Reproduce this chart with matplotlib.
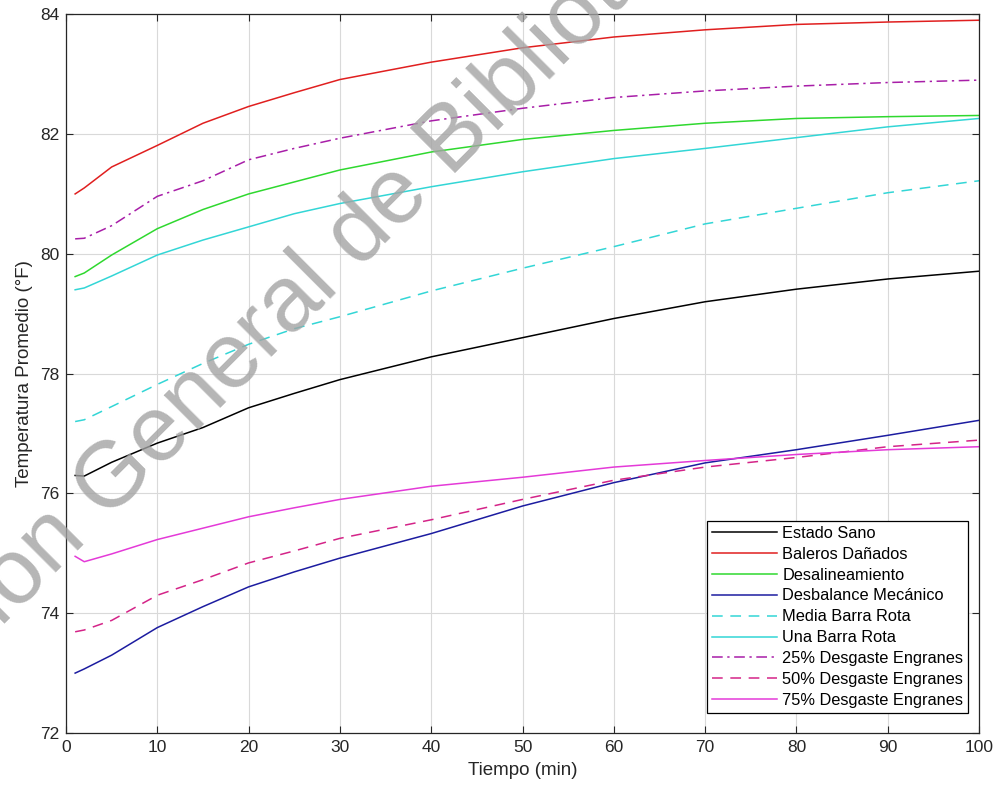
import matplotlib.pyplot as plt

plt.rcParams['font.family'] = ['Liberation Sans', 'DejaVu Sans']

# tiempo en minutos
tiempo = [1, 2, 5, 10, 15, 20, 25, 30, 40, 50, 60, 70, 80, 90, 100]

estado_sano = [76.30, 76.29, 76.52, 76.84, 77.10, 77.43, 77.67, 77.90, 78.28, 78.60,
               78.92, 79.20, 79.41, 79.58, 79.71]
baleros = [81.00, 81.10, 81.45, 81.81, 82.18, 82.46, 82.69, 82.91, 83.20, 83.44,
           83.62, 83.74, 83.83, 83.87, 83.90]
desalineamiento = [79.62, 79.68, 79.98, 80.42, 80.74, 81.00, 81.20, 81.40, 81.70, 81.91,
                   82.06, 82.18, 82.26, 82.29, 82.31]
desbalance = [73.00, 73.07, 73.30, 73.76, 74.11, 74.44, 74.69, 74.92, 75.33, 75.79,
              76.18, 76.51, 76.73, 76.97, 77.22]
media_barra = [77.20, 77.23, 77.45, 77.82, 78.17, 78.49, 78.75, 78.95, 79.38, 79.76,
               80.12, 80.50, 80.76, 81.02, 81.22]
una_barra = [79.40, 79.43, 79.63, 79.98, 80.23, 80.45, 80.67, 80.84, 81.12, 81.37,
             81.59, 81.76, 81.94, 82.12, 82.26]
desgaste_25 = [80.25, 80.26, 80.47, 80.96, 81.22, 81.57, 81.76, 81.93, 82.22, 82.43,
               82.61, 82.72, 82.80, 82.86, 82.90]
desgaste_50 = [73.69, 73.72, 73.88, 74.30, 74.56, 74.84, 75.04, 75.25, 75.56, 75.90,
               76.22, 76.44, 76.60, 76.78, 76.89]
desgaste_75 = [74.95, 74.86, 74.99, 75.23, 75.42, 75.61, 75.76, 75.90, 76.12, 76.27,
               76.44, 76.55, 76.65, 76.73, 76.78]

fig = plt.figure(figsize=(9.97, 7.91), dpi=100)
ax = fig.add_axes([0.0662, 0.0733, 0.9158, 0.9087])

ax.plot(tiempo, estado_sano, color='black', lw=1.1, label='Estado Sano')
ax.plot(tiempo, baleros, color='#e01f1f', lw=1.1, label='Baleros Dañados')
ax.plot(tiempo, desalineamiento, color='#2fd82f', lw=1.1, label='Desalineamiento')
ax.plot(tiempo, desbalance, color='#1c1ca0', lw=1.1, label='Desbalance Mecánico')
ax.plot(tiempo, media_barra, color='#33d6d6', lw=1.1, ls=(0, (7, 5)), label='Media Barra Rota')
ax.plot(tiempo, una_barra, color='#33d6d6', lw=1.1, label='Una Barra Rota')
ax.plot(tiempo, desgaste_25, color='#a81ea8', lw=1.1, ls=(0, (7, 3, 1.5, 3)),
        label='25% Desgaste Engranes')
ax.plot(tiempo, desgaste_50, color='#d42488', lw=1.1, ls=(0, (7, 5)), label='50% Desgaste Engranes')
ax.plot(tiempo, desgaste_75, color='#e43ad8', lw=1.1, label='75% Desgaste Engranes')

ax.set_xlim(0, 100)
ax.set_ylim(72, 84)
ax.set_xticks(range(0, 101, 10))
ax.set_yticks(range(72, 85, 2))
ax.grid(True, color='#d9d9d9', lw=0.8)
ax.set_axisbelow(True)
ax.tick_params(direction='in', top=True, right=True, length=5, labelsize=12.5,
               colors='#262626', width=0.8, pad=5)
for s in ax.spines.values():
    s.set_color('#262626')
    s.set_linewidth(0.9)

ax.set_xlabel('Tiempo (min)', fontsize=13.5, color='#262626', labelpad=5)
ax.set_ylabel('Temperatura Promedio (°F)', fontsize=13.5, color='#262626', labelpad=5)

leg = ax.legend(loc='lower right', bbox_to_anchor=(0.988, 0.028), fontsize=11.8,
                handlelength=4.0, fancybox=False, framealpha=1, edgecolor='black',
                borderaxespad=0, labelspacing=0.36, borderpad=0.3, handletextpad=0.3)
leg.get_frame().set_linewidth(0.9)

# marca de agua
fig.text(0.275, 0.595, 'Dirección General de Bibliotecas', fontsize=67, color='#a3a3a3',
         alpha=0.8, rotation=45, ha='center', va='center', rotation_mode='anchor')

fig.savefig('out.png', dpi=100)
